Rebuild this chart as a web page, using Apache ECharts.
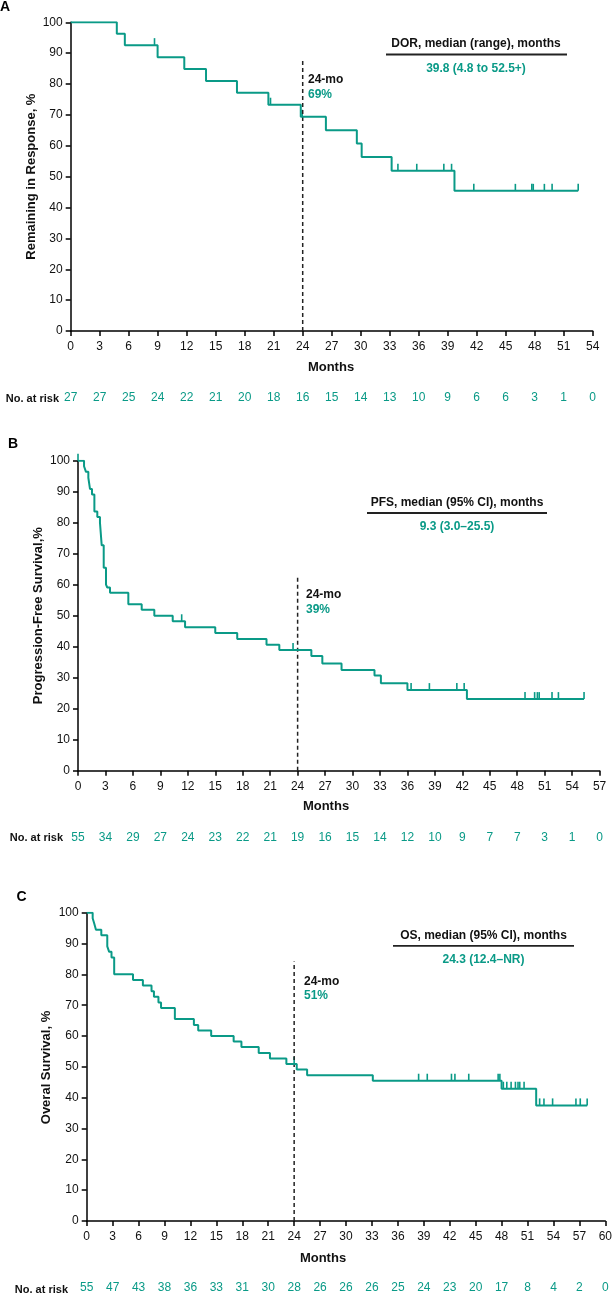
<!DOCTYPE html>
<html>
<head>
<meta charset="utf-8">
<script src="https://cdn.jsdelivr.net/npm/echarts@6/dist/echarts.min.js"></script>
<style>
html,body{margin:0;padding:0;background:#fff;}
#chart{width:615px;height:1294px;}
</style>
</head>
<body>
<div id="chart"></div>
<script>
// ---------- DATA ----------
const dorCurve = [[0,100],[4.77,96.3],[5.6,92.6],[8.99,88.7],[11.75,84.9],[14.0,81.0],[17.2,77.2],[20.45,73.3],[23.8,69.4],[26.4,65.0],[29.6,60.7],[30.1,56.4],[33.2,51.9],[39.7,45.4],[52.5,45.4]];
const dorCensor = [[8.67,92.6],[20.67,73.3],[23.95,69.4],[33.85,51.9],[35.8,51.9],[38.6,51.9],[39.4,51.9],[41.7,45.4],[46.0,45.4],[47.7,45.4],[47.85,45.4],[49.0,45.4],[49.8,45.4],[52.5,45.4]];
const dorRisk = [27,27,25,24,22,21,20,18,16,15,14,13,10,9,6,6,3,1,0];

const pfsCurve = [[0,100],[0.66,98.2],[0.87,96.4],[1.13,94.5],[1.31,90.9],[1.53,89.1],[1.79,83.6],[2.11,81.8],[2.4,80.0],[2.59,72.7],[2.81,65.5],[3.06,60.0],[3.2,59.1],[3.5,57.4],[5.5,53.7],[6.96,51.9],[8.34,50.0],[10.35,48.2],[11.7,46.3],[15.0,44.4],[17.4,42.5],[20.6,40.6],[22.0,38.9],[25.5,37.0],[26.7,34.6],[28.8,32.5],[32.4,30.7],[33.1,28.2],[36.0,26.0],[42.5,23.1],[55.3,23.1]];
const pfsCensor = [[0,100],[11.33,48.2],[23.5,38.9],[36.4,26.0],[38.4,26.0],[41.4,26.0],[42.2,26.0],[48.85,23.1],[49.9,23.1],[50.2,23.1],[50.4,23.1],[51.8,23.1],[52.5,23.1],[55.3,23.1]];
const pfsRisk = [55,34,29,27,24,23,22,21,19,16,15,14,12,10,9,7,7,3,1,0];

const osCurve = [[0,100],[0.69,98.2],[0.88,96.4],[1.07,94.5],[1.69,92.7],[2.38,89.1],[2.6,87.3],[2.87,85.5],[3.18,80.0],[5.36,78.2],[6.5,76.4],[7.5,74.5],[7.78,72.7],[8.3,70.9],[8.6,69.1],[10.2,65.5],[12.4,63.6],[12.9,61.8],[14.4,60.0],[17.0,58.2],[17.9,56.4],[19.9,54.5],[21.2,52.7],[23.1,50.9],[24.3,49.1],[25.5,47.3],[33.1,45.5],[48.0,42.9],[52.0,37.5],[57.9,37.5]];
const osCensor = [[24.0,50.9],[38.4,45.5],[39.4,45.5],[42.2,45.5],[42.6,45.5],[44.2,45.5],[47.6,45.5],[47.8,45.5],[48.2,42.9],[48.6,42.9],[49.1,42.9],[49.6,42.9],[49.9,42.9],[50.1,42.9],[50.6,42.9],[52.4,37.5],[52.9,37.5],[53.9,37.5],[56.6,37.5],[57.1,37.5],[57.9,37.5]];
const osRisk = [55,47,43,38,36,33,31,30,28,26,26,26,25,24,23,20,17,8,4,2,0];

const landmarkMonth = 24;
const landmarkLabels = ['69%','39%','51%'];
const summaryTitles = ['DOR, median (range), months','PFS, median (95% CI), months','OS, median (95% CI), months'];
const summaryValues = ['39.8 (4.8 to 52.5+)','9.3 (3.0\u201325.5)','24.3 (12.4\u2013NR)'];
const yTitles = ['Remaining in Response, %','Progression-Free Survival,%','Overal Survival, %'];
const panelLetters = ['A','B','C'];

// ---------- STYLE / LAYOUT ----------
const TEAL = '#0a9a87';
const FONT = '"Liberation Sans", Arial, Helvetica, sans-serif';
const panels = [
  {curve: dorCurve, censor: dorCensor, risk: dorRisk, xMax: 54, left: 70.7, top: 22.3, width: 522, height: 308.7, dashTop: 87.8,
   letter: [5, 7.5], yTitleX: 31, monthsX: 331, riskLabelX: 59,
   sumX: 476, sumY: 44, lineX1: 386, lineX2: 567, landX: 308},
  {curve: pfsCurve, censor: pfsCensor, risk: pfsRisk, xMax: 57, left: 78, top: 460.7, width: 521.6, height: 310, dashTop: 63.1,
   letter: [13, 444], yTitleX: 38, monthsX: 326, riskLabelX: 63,
   sumX: 457, sumY: 502.5, lineX1: 367, lineX2: 547, landX: 306},
  {curve: osCurve, censor: osCensor, risk: osRisk, xMax: 60, left: 86.7, top: 912.7, width: 522, height: 309.6, dashTop: 84.2,
   letter: [21.5, 897], yTitleX: 46, monthsX: 323, riskLabelX: 68,
   sumX: 483.5, sumY: 935.3, lineX1: 393, lineX2: 574, landX: 304}
];

const grid = [], xAxis = [], yAxis = [], series = [], graphic = [];

panels.forEach((p, i) => {
  grid.push({left: p.left, top: p.top, width: p.width, height: p.height, containLabel: false});
  xAxis.push({
    type: 'value', gridIndex: i, min: 0, max: p.xMax, interval: 3,
    axisLine: {show: true, onZero: false, lineStyle: {color: '#000', width: 1.5}},
    axisTick: {show: true, length: 5, lineStyle: {color: '#000', width: 1.5}},
    axisLabel: {color: '#111', fontSize: 12, fontFamily: FONT, margin: 10},
    splitLine: {show: false}
  });
  xAxis.push({
    type: 'value', gridIndex: i, min: 0, max: p.xMax, interval: 3, position: 'bottom', offset: 61,
    axisLine: {show: false}, axisTick: {show: false}, splitLine: {show: false},
    axisLabel: {color: TEAL, fontSize: 12, fontFamily: FONT, margin: 0,
      formatter: (v) => { const k = Math.round(v / 3); return p.risk[k] !== undefined ? String(p.risk[k]) : ''; }}
  });
  yAxis.push({
    type: 'value', gridIndex: i, min: 0, max: 100, interval: 10,
    axisLine: {show: true, onZero: false, lineStyle: {color: '#000', width: 1.5}},
    axisTick: {show: true, length: 5, lineStyle: {color: '#000', width: 1.5}},
    axisLabel: {color: '#111', fontSize: 12, fontFamily: FONT, margin: 8},
    splitLine: {show: false}
  });
  series.push({
    type: 'line', xAxisIndex: i * 2, yAxisIndex: i, data: p.curve, step: 'end',
    symbol: 'none', silent: true, animation: false,
    lineStyle: {color: TEAL, width: 2}
  });
  series.push({
    type: 'custom', xAxisIndex: i * 2, yAxisIndex: i, data: p.censor, animation: false, silent: true,
    renderItem: (params, api) => {
      const c = api.coord([api.value(0), api.value(1)]);
      return {type: 'line', shape: {x1: c[0], y1: c[1], x2: c[0], y2: c[1] - 7},
        style: {stroke: TEAL, lineWidth: 1.6}};
    }
  });
  series.push({
    type: 'custom', xAxisIndex: i * 2, yAxisIndex: i, data: [[landmarkMonth, p.dashTop]], animation: false, silent: true,
    renderItem: (params, api) => {
      const a = api.coord([api.value(0), 0]);
      const b = api.coord([api.value(0), api.value(1)]);
      return {type: 'line', shape: {x1: a[0], y1: a[1], x2: b[0], y2: b[1]},
        style: {stroke: '#222', lineWidth: 1.5, lineDash: [4, 3]}};
    }
  });

  const yMid = p.top + p.height / 2;
  const axisY = p.top + p.height;
  const dashTopY = p.top + (100 - p.dashTop) * p.height / 100;
  graphic.push(
    {type: 'text', x: p.letter[0], y: p.letter[1], style: {text: panelLetters[i], font: 'bold 14px ' + FONT, fill: '#000', align: 'center', verticalAlign: 'middle'}},
    {type: 'text', x: p.yTitleX, y: yMid, rotation: Math.PI / 2, style: {text: yTitles[i], font: 'bold 13px ' + FONT, fill: '#111', align: 'center', verticalAlign: 'middle'}},
    {type: 'text', x: p.monthsX, y: axisY + 36, style: {text: 'Months', font: 'bold 13px ' + FONT, fill: '#111', align: 'center', verticalAlign: 'middle'}},
    {type: 'text', x: p.riskLabelX, y: axisY + 67.7, style: {text: 'No. at risk', font: 'bold 11px ' + FONT, fill: '#111', align: 'right', verticalAlign: 'middle'}},
    {type: 'text', x: p.sumX, y: p.sumY, style: {text: summaryTitles[i], font: 'bold 12px ' + FONT, fill: '#111', align: 'center', verticalAlign: 'middle'}},
    {type: 'line', shape: {x1: p.lineX1, y1: p.sumY + 10.5, x2: p.lineX2, y2: p.sumY + 10.5}, style: {stroke: '#222', lineWidth: 1.8}},
    {type: 'text', x: p.sumX, y: p.sumY + 24.5, style: {text: summaryValues[i], font: 'bold 12px ' + FONT, fill: TEAL, align: 'center', verticalAlign: 'middle'}},
    {type: 'text', x: p.landX, y: dashTopY + 20, style: {text: '24-mo', font: 'bold 12px ' + FONT, fill: '#111', align: 'left', verticalAlign: 'middle'}},
    {type: 'text', x: p.landX, y: dashTopY + 34.5, style: {text: landmarkLabels[i], font: 'bold 12px ' + FONT, fill: TEAL, align: 'left', verticalAlign: 'middle'}}
  );
});

const chart = echarts.init(document.getElementById('chart'), null, {renderer: 'canvas'});
chart.setOption({
  backgroundColor: '#fff',
  animation: false,
  grid, xAxis, yAxis, series, graphic
});
</script>
</body>
</html>
